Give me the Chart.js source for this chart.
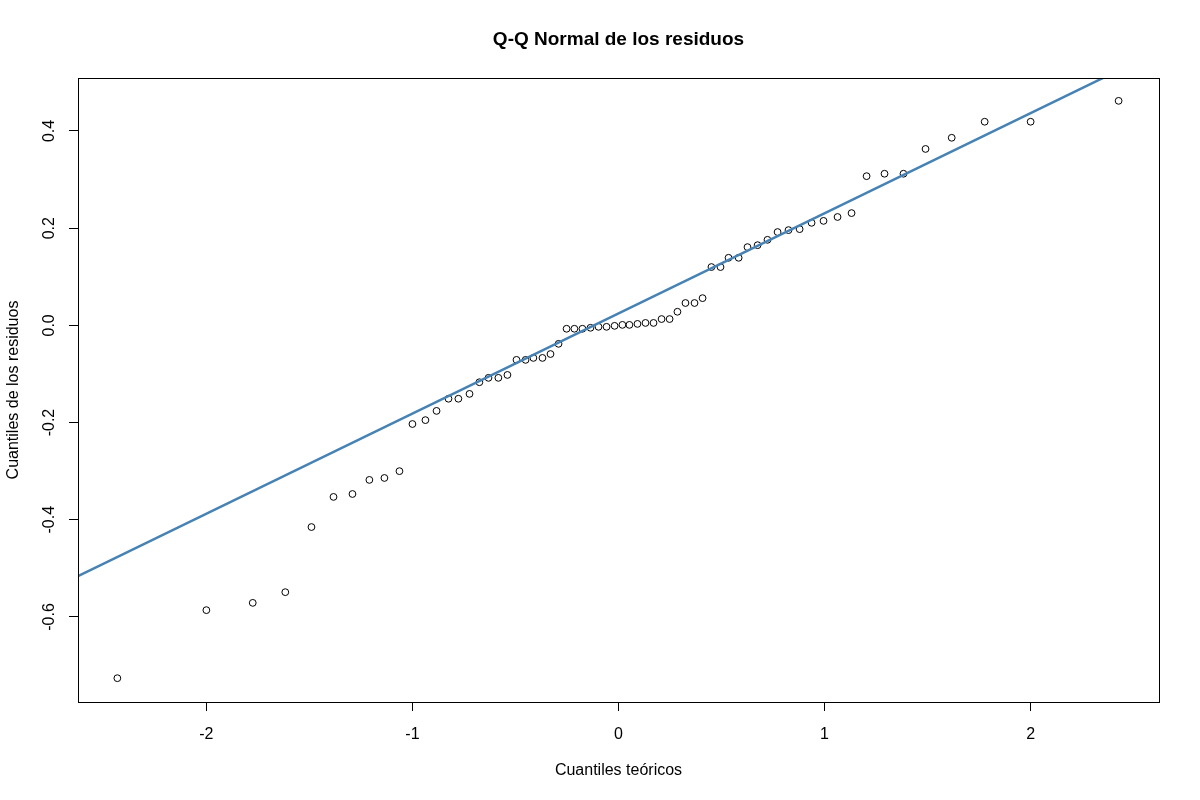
<!DOCTYPE html>
<html>
<head>
<meta charset="utf-8">
<title>Q-Q Normal de los residuos</title>
<script src="https://cdn.jsdelivr.net/npm/chart.js@4.4.1/dist/chart.umd.min.js"></script>
<style>
  html, body { margin: 0; padding: 0; background: #ffffff; }
  #wrap { width: 1200px; height: 800px; }
</style>
</head>
<body>
<div id="wrap"><canvas id="qq" width="1200" height="800"></canvas></div>
<script>
// cuantiles teóricos (eje x)
const teoricos = [
  -2.432, -2.000, -1.775, -1.617, -1.490, -1.383, -1.291, -1.209, -1.136, -1.063,
  -1.000, -0.937, -0.883, -0.825, -0.777, -0.723, -0.675, -0.631, -0.583, -0.539,
  -0.495, -0.451, -0.413, -0.369, -0.330, -0.291, -0.252, -0.214, -0.175, -0.136,
  -0.097, -0.058, -0.019, 0.019, 0.053, 0.092, 0.131, 0.170, 0.209, 0.248,
  0.286, 0.325, 0.369, 0.408, 0.451, 0.495, 0.534, 0.583, 0.626, 0.675,
  0.723, 0.772, 0.825, 0.879, 0.937, 0.995, 1.063, 1.131, 1.204, 1.291,
  1.383, 1.490, 1.617, 1.777, 2.000, 2.427
];

// residuos ordenados (eje y)
const residuos = [
  -0.726, -0.586, -0.571, -0.549, -0.415, -0.353, -0.347, -0.318, -0.314, -0.300,
  -0.203, -0.195, -0.176, -0.151, -0.151, -0.141, -0.117, -0.108, -0.108, -0.102,
  -0.071, -0.071, -0.067, -0.067, -0.059, -0.038, -0.007, -0.007, -0.007, -0.005,
  -0.003, -0.003, -0.001, 0.001, 0.001, 0.003, 0.005, 0.005, 0.013, 0.013,
  0.028, 0.046, 0.046, 0.056, 0.120, 0.120, 0.139, 0.139, 0.161, 0.165,
  0.176, 0.192, 0.196, 0.198, 0.211, 0.215, 0.223, 0.231, 0.307, 0.312,
  0.312, 0.363, 0.386, 0.419, 0.419, 0.462
];

// recta qqline: dos extremos
const lineaX = [-2.7, 2.7];
const lineaY = [-0.532, 0.581];

const xTicks = [-2, -1, 0, 1, 2];
const yTicks = [-0.6, -0.4, -0.2, 0.0, 0.2, 0.4];

const FONT = "'Liberation Sans', Arial, sans-serif";

const puntos = teoricos.map((x, i) => ({ x: x, y: residuos[i] }));
const linea = lineaX.map((x, i) => ({ x: x, y: lineaY[i] }));

// marco del gráfico y etiquetas del eje y giradas (estilo R)
const marcoR = {
  id: 'marcoR',
  afterDraw(chart) {
    const ctx = chart.ctx;
    const a = chart.chartArea;
    const ys = chart.scales.y;
    ctx.save();
    ctx.strokeStyle = '#000';
    ctx.lineWidth = 1;
    ctx.strokeRect(Math.round(a.left) + 0.5, Math.round(a.top) + 0.5,
      Math.round(a.right - a.left), Math.round(a.bottom - a.top));

    ctx.fillStyle = '#000';
    ctx.font = '16px ' + FONT;
    ctx.textAlign = 'center';
    ctx.textBaseline = 'middle';
    yTicks.forEach(v => {
      const py = ys.getPixelForValue(v);
      ctx.save();
      ctx.translate(50, py);
      ctx.rotate(-Math.PI / 2);
      ctx.fillText(v.toFixed(1), 0, 0);
      ctx.restore();
    });
    ctx.restore();
  }
};

new Chart(document.getElementById('qq').getContext('2d'), {
  type: 'scatter',
  data: {
    datasets: [
      {
        type: 'line',
        label: 'qqline',
        data: linea,
        showLine: true,
        borderColor: '#4682B4',
        borderWidth: 2.5,
        pointRadius: 0,
        fill: false
      },
      {
        label: 'residuos',
        data: puntos,
        pointStyle: 'circle',
        pointRadius: 3.4,
        pointBorderWidth: 1,
        pointBorderColor: '#000',
        pointBackgroundColor: 'rgba(0,0,0,0)',
        pointHoverRadius: 3.4
      }
    ]
  },
  options: {
    responsive: false,
    devicePixelRatio: 1,
    animation: false,
    layout: { padding: { left: 0, right: 41, top: 0, bottom: 0 } },
    plugins: {
      legend: { display: false },
      tooltip: { enabled: false },
      title: {
        display: true,
        text: 'Q-Q Normal de los residuos',
        fullSize: false,
        color: '#000',
        font: { family: FONT, size: 19, weight: 'bold' },
        padding: { top: 28.1, bottom: 27.1 }
      }
    },
    scales: {
      x: {
        type: 'linear',
        min: -2.623,
        max: 2.623,
        afterFit(scale) { scale.height = 98; },
        grid: { drawOnChartArea: false, drawTicks: true, tickLength: 9, color: '#000' },
        border: { display: true, color: '#000' },
        ticks: {
          includeBounds: false,
          stepSize: 1,
          padding: 14,
          color: '#000',
          font: { family: FONT, size: 16 },
          maxRotation: 0,
          callback: v => String(v)
        },
        title: {
          display: true,
          text: 'Cuantiles teóricos',
          color: '#000',
          font: { family: FONT, size: 16 },
          padding: { top: 19.4, bottom: 19.4 }
        }
      },
      y: {
        type: 'linear',
        min: -0.775,
        max: 0.509,
        afterFit(scale) { scale.width = 78; },
        grid: { drawOnChartArea: false, drawTicks: true, tickLength: 9, color: '#000' },
        border: { display: true, color: '#000' },
        ticks: {
          includeBounds: false,
          stepSize: 0.2,
          color: 'rgba(0,0,0,0)',
          font: { family: FONT, size: 16 },
          callback: v => v.toFixed(1)
        },
        title: {
          display: true,
          text: 'Cuantiles de los residuos',
          color: '#000',
          font: { family: FONT, size: 16 },
          padding: { top: 3.9, bottom: 3.9 }
        }
      }
    }
  },
  plugins: [marcoR]
});
</script>
</body>
</html>
